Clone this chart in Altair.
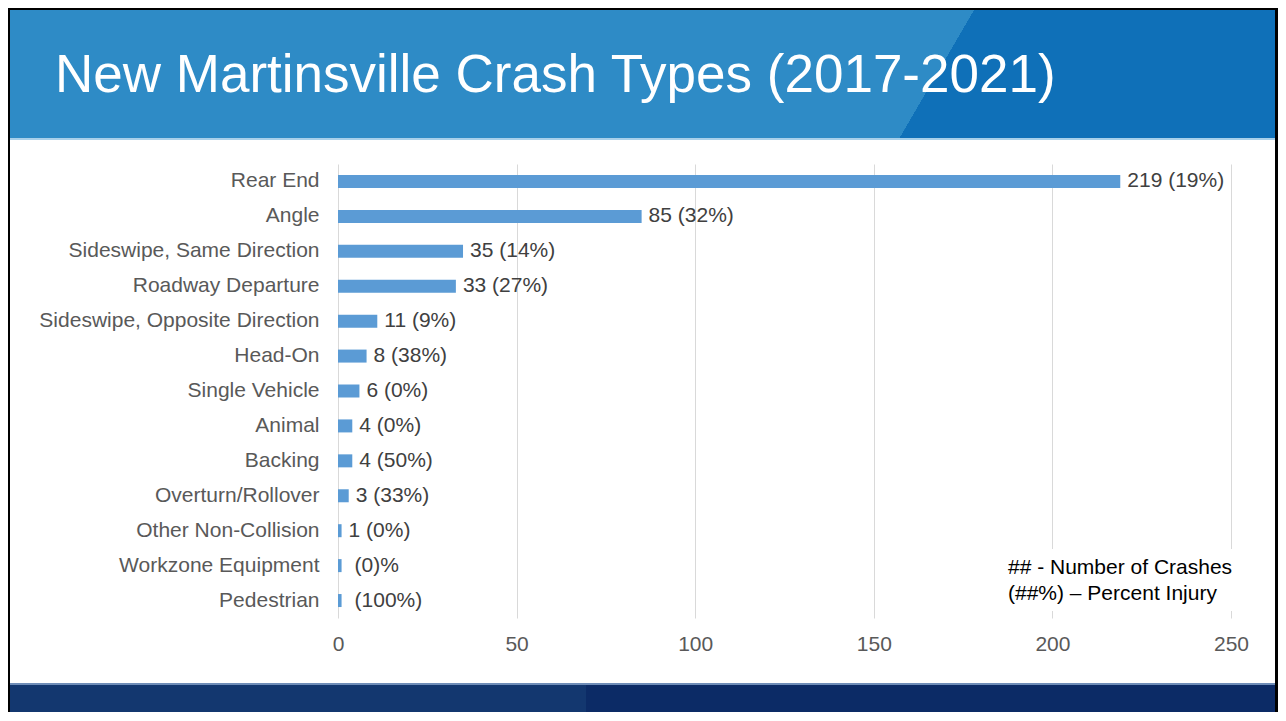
import altair as alt
import pandas as pd

# ---- data ----
categories = ["Rear End", "Angle", "Sideswipe, Same Direction", "Roadway Departure",
              "Sideswipe, Opposite Direction", "Head-On", "Single Vehicle", "Animal",
              "Backing", "Overturn/Rollover", "Other Non-Collision",
              "Workzone Equipment", "Pedestrian"]
crashes = [219, 85, 35, 33, 11, 8, 6, 4, 4, 3, 1, 1, 1]
labels = ["219 (19%)", "85 (32%)", "35 (14%)", "33 (27%)", "11 (9%)", "8 (38%)",
          "6 (0%)", "4 (0%)", "4 (50%)", "3 (33%)", "1 (0%)",
          "(0)%", "(100%)"]
# labels that in the original start with a blank (no crash count shown)
no_count = [False, False, False, False, False, False,
            False, False, False, False, False, True, True]
x_ticks = [0, 50, 100, 150, 200, 250]
title_text = "New Martinsville Crash Types (2017-2021)"
legend_lines = ["## - Number of Crashes", "(##%) \u2013 Percent Injury"]

FONT = "Liberation Sans"

df = pd.DataFrame({"cat": categories, "n": crashes, "label": labels, "nc": no_count})
one = pd.DataFrame({"k": [0]})

x_enc = alt.X("n:Q",
              scale=alt.Scale(domain=[0, 250], nice=False, zero=True),
              axis=alt.Axis(values=x_ticks, title=None, grid=True, gridColor="#D9D9D9",
                            gridWidth=1, ticks=False, domain=False, labelFontSize=21,
                            labelColor="#595959", labelPadding=15, format="d",
                            labelFont=FONT, labelFlush=False))
y_enc = alt.Y("cat:N", sort=categories,
              scale=alt.Scale(paddingInner=0, paddingOuter=0),
              axis=alt.Axis(title=None, ticks=False, domain=False, labelFontSize=21,
                            labelColor="#595959", labelPadding=19, labelLimit=400,
                            labelFont=FONT))

bars = alt.Chart(df).mark_bar(size=13, color="#5B9BD5").encode(x=x_enc, y=y_enc)
texts = alt.Chart(df).transform_filter("!datum.nc").mark_text(
    align="left", baseline="middle", dx=7, fontSize=21, color="#404040", font=FONT
).encode(x=alt.X("n:Q"), y=alt.Y("cat:N", sort=categories), text="label:N")
texts_nc = alt.Chart(df).transform_filter("datum.nc").mark_text(
    align="left", baseline="middle", dx=13, fontSize=21, color="#404040", font=FONT
).encode(x=alt.X("n:Q"), y=alt.Y("cat:N", sort=categories), text="label:N")

# ---- slide decoration ----
header = alt.Chart(one).mark_rect(
    color=alt.Gradient(gradient="linear", x1=0, y1=0, x2=1, y2=0.0589,
                       stops=[alt.GradientStop(offset=0, color="#2E8BC6"),
                              alt.GradientStop(offset=0.7594, color="#2E8BC6"),
                              alt.GradientStop(offset=0.7595, color="#0F70B8"),
                              alt.GradientStop(offset=1, color="#0F70B8")])
).encode(x=alt.value(-328), x2=alt.value(937), y=alt.value(-154), y2=alt.value(-26))

header_line = alt.Chart(one).mark_rect(color="#A8D0EA").encode(
    x=alt.value(-328), x2=alt.value(937), y=alt.value(-26), y2=alt.value(-24))

footer = alt.Chart(one).mark_rect(
    color=alt.Gradient(gradient="linear", x1=0, y1=0, x2=1, y2=0,
                       stops=[alt.GradientStop(offset=0, color="#13376F"),
                              alt.GradientStop(offset=0.4556, color="#13376F"),
                              alt.GradientStop(offset=0.4557, color="#0C2B66"),
                              alt.GradientStop(offset=1, color="#0C2B66")])
).encode(x=alt.value(-328), x2=alt.value(937), y=alt.value(521), y2=alt.value(548))

footer_line = alt.Chart(one).mark_rect(color="#6F8DB8").encode(
    x=alt.value(-328), x2=alt.value(937), y=alt.value(519), y2=alt.value(521))

border_top = alt.Chart(one).mark_rect(color="black").encode(
    x=alt.value(-330), x2=alt.value(940), y=alt.value(-156), y2=alt.value(-154))
border_left = alt.Chart(one).mark_rect(color="black").encode(
    x=alt.value(-330), x2=alt.value(-328), y=alt.value(-156), y2=alt.value(548))
border_right = alt.Chart(one).mark_rect(color="black").encode(
    x=alt.value(937), x2=alt.value(940), y=alt.value(-156), y2=alt.value(548))

title = alt.Chart(one).mark_text(text=title_text, align="left", baseline="alphabetic",
                                 fontSize=53, color="white", font=FONT).encode(
    x=alt.value(-283), y=alt.value(-72))

legend_box = alt.Chart(one).mark_rect(color="white").encode(
    x=alt.value(662), x2=alt.value(918), y=alt.value(385), y2=alt.value(447))
legend_t1 = alt.Chart(one).mark_text(text=legend_lines[0], align="left", baseline="middle",
                                     fontSize=21, color="black", font=FONT).encode(
    x=alt.value(670), y=alt.value(404))
legend_t2 = alt.Chart(one).mark_text(text=legend_lines[1], align="left", baseline="middle",
                                     fontSize=21, color="black", font=FONT).encode(
    x=alt.value(670), y=alt.value(430))

chart = alt.layer(
    header, header_line, footer_line, footer, bars, texts, texts_nc, legend_box,
    legend_t1, legend_t2, title, border_top, border_left, border_right
).properties(
    width=893, height=454,
    autosize=alt.AutoSizeParams(type="none"),
    padding={"left": 330, "top": 156, "right": 47, "bottom": 94},
    background="white",
).configure(font=FONT, view=alt.ViewConfig(stroke=None))

chart.save("out.html", embed_options={"renderer": "svg", "actions": False})
